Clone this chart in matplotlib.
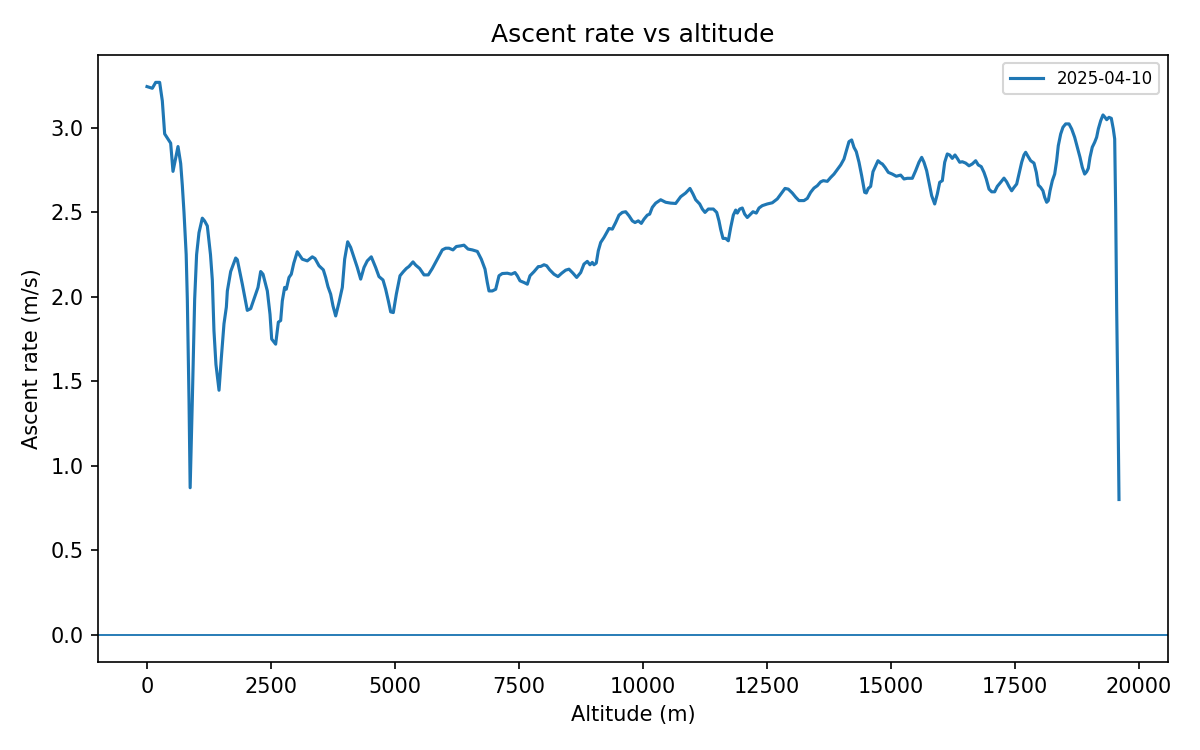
import matplotlib
matplotlib.use("Agg")
import matplotlib.pyplot as plt

altitude_m = [
    0, 107, 175, 255, 309, 356, 410, 477, 524, 625, 679, 712, 746, 790, 813, 847, 870,
    914, 961, 1000, 1048, 1115, 1160, 1216, 1280, 1317, 1350, 1390, 1452, 1499, 1552,
    1600, 1620, 1687, 1788, 1821, 1922, 2022, 2090, 2190, 2238, 2292, 2339, 2426, 2480,
    2514, 2594, 2648, 2695, 2728, 2775, 2808, 2863, 2909, 2960, 3030, 3131, 3232, 3333,
    3387, 3468, 3555, 3602, 3649, 3703, 3750, 3804, 3871, 3938, 3985, 4046, 4106, 4173,
    4240, 4308, 4375, 4441, 4522, 4610, 4677, 4758, 4812, 4866, 4913, 4966, 5027, 5101,
    5168, 5228, 5282, 5363, 5417, 5497, 5585, 5671, 5752, 5853, 5954, 6022, 6089, 6169,
    6236, 6324, 6391, 6472, 6559, 6660, 6740, 6815, 6861, 6895, 6962, 7030, 7097, 7163,
    7264, 7345, 7419, 7466, 7520, 7601, 7668, 7722, 7802, 7889, 7937, 8004, 8058, 8119,
    8206, 8286, 8361, 8441, 8508, 8589, 8663, 8744, 8810, 8877, 8931, 8978, 9012, 9058,
    9099, 9147, 9214, 9268, 9315, 9382, 9449, 9516, 9583, 9651, 9718, 9785, 9839, 9905,
    9966, 10020, 10087, 10135, 10188, 10256, 10357, 10457, 10558, 10659, 10760, 10860,
    10947, 11008, 11062, 11143, 11196, 11250, 11317, 11418, 11486, 11532, 11566, 11613,
    11667, 11720, 11768, 11821, 11869, 11902, 11950, 12002, 12050, 12103, 12171, 12218,
    12284, 12339, 12405, 12506, 12607, 12708, 12796, 12863, 12929, 13010, 13079, 13145,
    13246, 13313, 13380, 13447, 13514, 13582, 13635, 13716, 13784, 13851, 13917, 13986,
    14052, 14099, 14153, 14207, 14254, 14300, 14355, 14409, 14469, 14502, 14542, 14590,
    14637, 14691, 14738, 14792, 14825, 14879, 14946, 15026, 15107, 15195, 15262, 15329,
    15430, 15497, 15564, 15619, 15665, 15719, 15766, 15820, 15881, 15934, 15982, 16035,
    16083, 16135, 16183, 16236, 16290, 16337, 16385, 16438, 16506, 16573, 16639, 16707,
    16760, 16820, 16875, 16921, 16976, 17030, 17090, 17143, 17211, 17278, 17332, 17379,
    17433, 17480, 17534, 17580, 17635, 17681, 17715, 17762, 17816, 17883, 17930, 17970,
    18018, 18064, 18099, 18139, 18172, 18206, 18253, 18300, 18340, 18373, 18421, 18467,
    18522, 18589, 18643, 18703, 18756, 18811, 18857, 18905, 18945, 18978, 19012, 19058,
    19106, 19146, 19180, 19228, 19274, 19315, 19349, 19395, 19442, 19482, 19510, 19530,
    19550, 19577, 19597,
]

ascent_rate = [
    3.245, 3.235, 3.27, 3.27, 3.16, 2.965, 2.94, 2.91, 2.743, 2.89, 2.79, 2.66, 2.50,
    2.25, 1.986, 1.39, 0.87,
    1.39, 1.986, 2.25, 2.38, 2.466, 2.45, 2.42, 2.25, 2.10, 1.80, 1.60, 1.447, 1.64, 1.84,
    1.94, 2.035, 2.15, 2.23, 2.22, 2.075, 1.92, 1.93, 2.015, 2.056, 2.15, 2.134, 2.035,
    1.897, 1.75, 1.72, 1.85, 1.86, 1.976, 2.056, 2.045, 2.115, 2.134, 2.20, 2.267, 2.223,
    2.213, 2.237, 2.227, 2.184, 2.16, 2.115, 2.06, 2.016, 1.946, 1.887, 1.967, 2.056,
    2.223, 2.326, 2.293, 2.233, 2.174, 2.105, 2.174, 2.213, 2.237, 2.174, 2.12, 2.10,
    2.045, 1.976, 1.911, 1.907, 2.016, 2.125, 2.149, 2.168, 2.18, 2.207, 2.188, 2.168,
    2.13, 2.13, 2.168, 2.223, 2.278, 2.288, 2.288, 2.278, 2.298, 2.302, 2.306, 2.283,
    2.278, 2.269, 2.223, 2.164, 2.085, 2.035, 2.035, 2.045, 2.125, 2.138, 2.14, 2.134,
    2.144, 2.125, 2.095, 2.085, 2.075, 2.125, 2.149, 2.179, 2.18, 2.19, 2.184, 2.16,
    2.134, 2.12, 2.14, 2.158, 2.164, 2.14, 2.115, 2.144, 2.194, 2.21, 2.19, 2.204, 2.19,
    2.20, 2.273, 2.322, 2.352, 2.381, 2.405, 2.401, 2.44, 2.484, 2.50, 2.504, 2.48,
    2.45, 2.44, 2.45, 2.435, 2.46, 2.484, 2.49, 2.53, 2.555, 2.575, 2.56, 2.555, 2.553,
    2.593, 2.615, 2.642, 2.609, 2.575, 2.55, 2.52, 2.50, 2.52, 2.52, 2.50, 2.45, 2.40,
    2.346, 2.346, 2.332, 2.41, 2.484, 2.514, 2.496, 2.52, 2.526, 2.49, 2.47, 2.49,
    2.504, 2.496, 2.526, 2.54, 2.55, 2.557, 2.58, 2.615, 2.642, 2.638, 2.615, 2.59,
    2.57, 2.57, 2.583, 2.619, 2.644, 2.658, 2.681, 2.688, 2.684, 2.707, 2.727, 2.753,
    2.781, 2.816, 2.865, 2.919, 2.929, 2.885, 2.86, 2.797, 2.717, 2.619, 2.615, 2.642,
    2.654, 2.741, 2.776, 2.806, 2.792, 2.787, 2.767, 2.737, 2.727, 2.714, 2.721, 2.698,
    2.702, 2.702, 2.747, 2.797, 2.826, 2.797, 2.747, 2.678, 2.599, 2.55, 2.609, 2.678,
    2.688, 2.797, 2.846, 2.84, 2.82, 2.84, 2.82, 2.797, 2.80, 2.792, 2.776, 2.787,
    2.806, 2.781, 2.771, 2.737, 2.698, 2.638, 2.622, 2.622, 2.654, 2.678, 2.703, 2.681,
    2.654, 2.628, 2.648, 2.668, 2.727, 2.797, 2.84, 2.856, 2.832, 2.806, 2.792, 2.737,
    2.662, 2.648, 2.628, 2.589, 2.56, 2.57, 2.628, 2.688, 2.727, 2.806, 2.895, 2.964,
    3.004, 3.024, 3.024, 2.994, 2.945, 2.886, 2.826, 2.767, 2.727, 2.741, 2.761, 2.826,
    2.886, 2.915, 2.945, 2.994, 3.043, 3.077, 3.063, 3.049, 3.063, 3.057, 2.994, 2.935,
    2.52, 1.93, 1.334, 0.80,
]

series_label = "2025-04-10"

fig, ax = plt.subplots(figsize=(8, 5), dpi=150)
ax.plot(altitude_m, ascent_rate, color="#1f77b4", linewidth=1.5, label=series_label)
ax.axhline(0, color="#1f77b4", linewidth=0.9)
ax.set_title("Ascent rate vs altitude")
ax.set_xlabel("Altitude (m)")
ax.set_ylabel("Ascent rate (m/s)")
ax.legend(loc="upper right", fontsize=8)
fig.subplots_adjust(left=0.082, right=0.973, top=0.927, bottom=0.117)
fig.savefig("out.png", dpi=150)
